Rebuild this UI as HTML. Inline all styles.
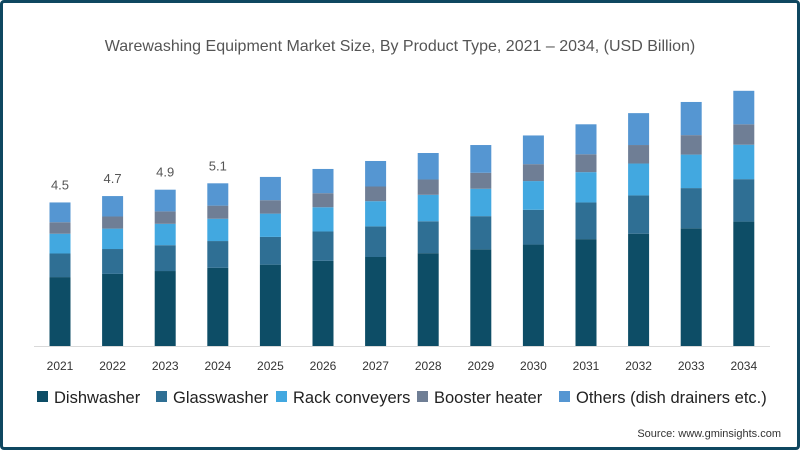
<!DOCTYPE html>
<html><head><meta charset="utf-8"><style>
body{margin:0;background:#fff;}
#wrap{position:relative;width:800px;height:450px;box-sizing:border-box;border:3px solid #0f4760;border-radius:4px;overflow:hidden;font-family:"Liberation Sans",sans-serif;}
svg{position:absolute;left:-3px;top:-3px;}
</style></head><body>
<div id="wrap">
<svg id="c" width="800" height="450"></svg>
</div>
<script>
const years=["2021","2022","2023","2024","2025","2026","2027","2028","2029","2030","2031","2032","2033","2034"];
const totalLabels=["4.5","4.7","4.9","5.1"];
const dishwasher=[2.16,2.26,2.35,2.45,2.55,2.67,2.79,2.91,3.03,3.18,3.35,3.52,3.69,3.9];
const glasswasher=[0.74,0.78,0.81,0.84,0.87,0.92,0.96,1.0,1.04,1.09,1.15,1.2,1.26,1.33];
const rackConveyers=[0.62,0.64,0.67,0.7,0.73,0.76,0.79,0.83,0.86,0.9,0.95,1.0,1.05,1.08];
const boosterHeater=[0.36,0.38,0.39,0.41,0.42,0.44,0.46,0.48,0.5,0.53,0.56,0.58,0.61,0.64];
const others=[0.62,0.64,0.68,0.70,0.73,0.76,0.80,0.83,0.87,0.90,0.94,1.0,1.04,1.05];
const seriesNames=["Dishwasher","Glasswasher","Rack conveyers","Booster heater","Others (dish drainers etc.)"];
const colors=["#0d4d66","#2f6f94","#42a8e0","#6f7e95","#5596d2"];
const series=[dishwasher,glasswasher,rackConveyers,boosterHeater,others];
const NS="http://www.w3.org/2000/svg";
const svg=document.getElementById('c');
function mk(t,a){const e=document.createElementNS(NS,t);for(const k in a)e.setAttribute(k,a[k]);svg.appendChild(e);return e;}
const base=346, scale=31.9, x0=60, step=52.6, bw=21;
const yv=v=>v*scale;
const xc=i=>x0+i*step;
let t=mk('text',{x:400,y:51,'text-anchor':'middle','font-size':16,fill:'#555'});
t.textContent="Warewashing Equipment Market Size, By Product Type, 2021 – 2034, (USD Billion)";


let ax=mk('line',{x1:34,x2:770,y1:base+0.5,y2:base+0.5,stroke:'#d9d9d9','stroke-width':1});


years.forEach((yr,i)=>{
  let acc=0;
  series.forEach((s,k)=>{
    const h=yv(s[i]);
    const r=mk('rect',{x:xc(i)-bw/2,y:base-yv(acc)-h,width:bw,height:h,fill:colors[k]});
    
    
    acc+=s[i];
  });
  const l=mk('text',{x:xc(i),y:370,'text-anchor':'middle','font-size':12,fill:'#333'});
  l.textContent=yr;
  
  
  if(i<totalLabels.length){
    const v=mk('text',{x:xc(i),y:base-yv(acc)-13,'text-anchor':'middle','font-size':13,fill:'#555'});
    v.textContent=totalLabels[i];
    
    
  }
});
const lx=[37,156,276,417,559];
seriesNames.forEach((n,k)=>{
  const r=mk('rect',{x:lx[k],y:391,width:11,height:11,fill:colors[k]});
  
  
  const tx=mk('text',{x:lx[k]+17,y:403,'font-size':16.5,fill:'#222'});
  tx.textContent=n;
  
  
});
const s=mk('text',{x:781,y:437,'text-anchor':'end','font-size':11,fill:'#333'});
s.textContent="Source: www.gminsights.com";


</script>
</body></html>
